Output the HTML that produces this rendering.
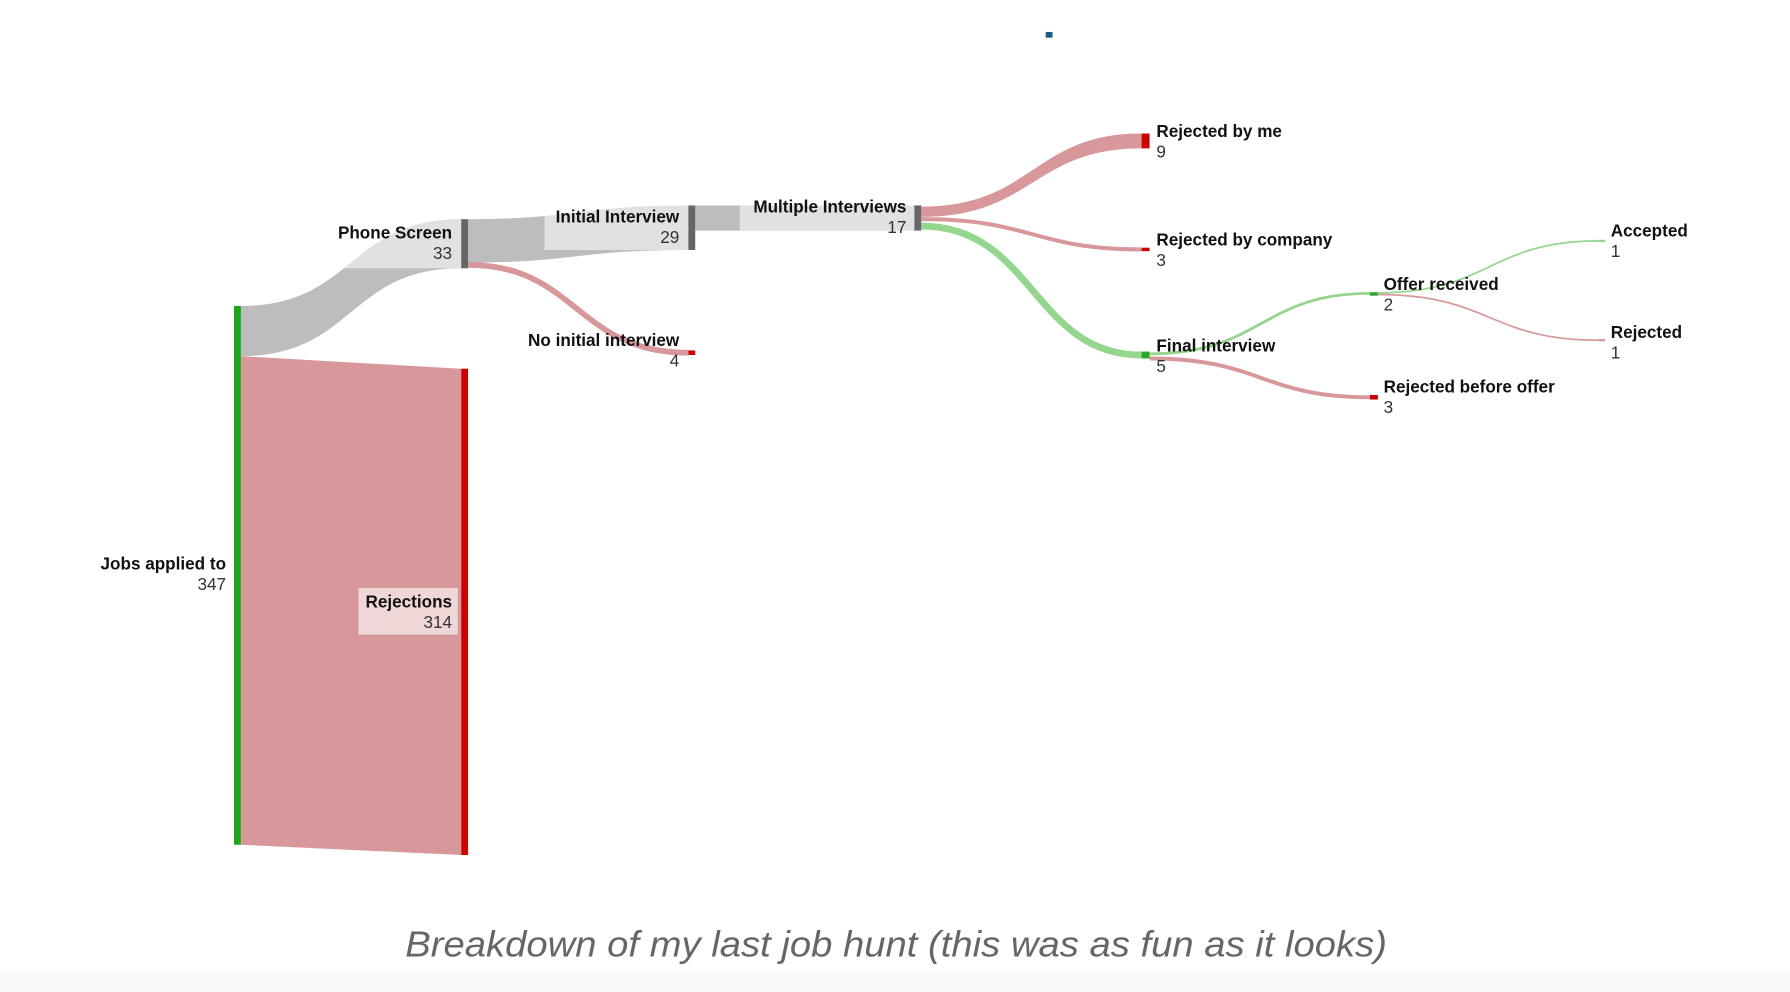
<!DOCTYPE html>
<html><head><meta charset="utf-8"><style>
html,body{margin:0;padding:0;background:#fff;}
svg{display:block;}
text{font-family:"Liberation Sans",sans-serif;font-size:15px;fill:#111;}
.b{font-weight:bold;}
.v{fill:#333;}
</style></head><body>
<svg width="1790" height="992" viewBox="0 0 1568 869" preserveAspectRatio="none">
<rect x="0" y="852" width="1568" height="17" fill="#f8f8f8"/>
<rect x="916" y="28" width="6" height="5" fill="#1d5a80"/>
<path d="M211,268 C310,268 305,192 404,192 L404,235 C305,235 310,312 211,312 Z" fill="#bdbdbd"/>
<path d="M211,312 L404,323 L404,749 L211,740 Z" fill="#d8989b"/>
<path d="M410,192 C505,192 505,180 603,180 L603,219 C505,219 505,230 410,230 Z" fill="#bdbdbd"/>
<path d="M410,232 C505,232 505,309 603,309" stroke="#d8989b" stroke-width="5" fill="none"/>
<path d="M609,180 L801,180 L801,202 L609,202 Z" fill="#bdbdbd"/>
<path d="M807,181 C905,181 905,117 1000,117 L1000,130 C905,130 905,190 807,190 Z" fill="#d8989b"/>
<path d="M807,192 C905,192 905,218.5 1000,218.5" stroke="#d8989b" stroke-width="3.5" fill="none"/>
<path d="M807,198 C905,198 905,311 1000,311" stroke="#95d68e" stroke-width="6" fill="none"/>
<path d="M1007,310 C1105,310 1105,257 1200,257" stroke="#95d68e" stroke-width="2.5" fill="none"/>
<path d="M1007,314 C1105,314 1105,348 1200,348" stroke="#d8989b" stroke-width="3.5" fill="none"/>
<path d="M1207,256.5 C1305,256.5 1305,211 1400,211" stroke="#95d68e" stroke-width="1.5" fill="none"/>
<path d="M1207,258 C1305,258 1305,298 1400,298" stroke="#d8989b" stroke-width="1.5" fill="none"/>
<rect x="290" y="192" width="114" height="43" fill="#fff" opacity="0.55"/>
<rect x="477" y="180" width="126" height="39" fill="#fff" opacity="0.55"/>
<rect x="648" y="180" width="153" height="22" fill="#fff" opacity="0.55"/>
<rect x="314" y="515" width="87" height="41" fill="#fff" opacity="0.6"/>
<rect x="205" y="268" width="6" height="472" fill="#1ea319"/>
<rect x="404" y="192" width="6" height="43" fill="#666"/>
<rect x="404" y="323" width="6" height="426" fill="#c00"/>
<rect x="603" y="180" width="6" height="39" fill="#666"/>
<rect x="603" y="307" width="6" height="4" fill="#c00"/>
<rect x="801" y="180" width="6" height="22" fill="#666"/>
<rect x="1000" y="117" width="7" height="13" fill="#c00"/>
<rect x="1000" y="217" width="7" height="3" fill="#c00"/>
<rect x="1000" y="308" width="7" height="6" fill="#2aa52a"/>
<rect x="1200" y="256" width="7" height="3" fill="#2aa52a"/>
<rect x="1200" y="346" width="7" height="4" fill="#c00"/>
<rect x="1400" y="210" width="6" height="2" fill="#95d68e"/>
<rect x="1400" y="297" width="6" height="2" fill="#d8989b"/>
<g text-anchor="end">
<text x="198" y="499" class="b">Jobs applied to</text><text x="198" y="517" class="v">347</text>
<text x="396" y="209" class="b">Phone Screen</text><text x="396" y="227" class="v">33</text>
<text x="396" y="532" class="b">Rejections</text><text x="396" y="550" class="v">314</text>
<text x="595" y="195" class="b">Initial Interview</text><text x="595" y="213" class="v">29</text>
<text x="595" y="303" class="b">No initial interview</text><text x="595" y="321" class="v">4</text>
<text x="794" y="186" class="b">Multiple Interviews</text><text x="794" y="204" class="v">17</text>
</g>
<text x="1013" y="120" class="b">Rejected by me</text><text x="1013" y="138" class="v">9</text>
<text x="1013" y="215" class="b">Rejected by company</text><text x="1013" y="233" class="v">3</text>
<text x="1013" y="308" class="b">Final interview</text><text x="1013" y="326" class="v">5</text>
<text x="1212" y="254" class="b">Offer received</text><text x="1212" y="272" class="v">2</text>
<text x="1212" y="344" class="b">Rejected before offer</text><text x="1212" y="362" class="v">3</text>
<text x="1411" y="207" class="b">Accepted</text><text x="1411" y="225" class="v">1</text>
<text x="1411" y="296" class="b">Rejected</text><text x="1411" y="314" class="v">1</text>
<text x="785" y="838" text-anchor="middle" textLength="860" lengthAdjust="spacingAndGlyphs" style="font-size:32px;font-style:italic;fill:#666">Breakdown of my last job hunt (this was as fun as it looks)</text>
</svg>
</body></html>
